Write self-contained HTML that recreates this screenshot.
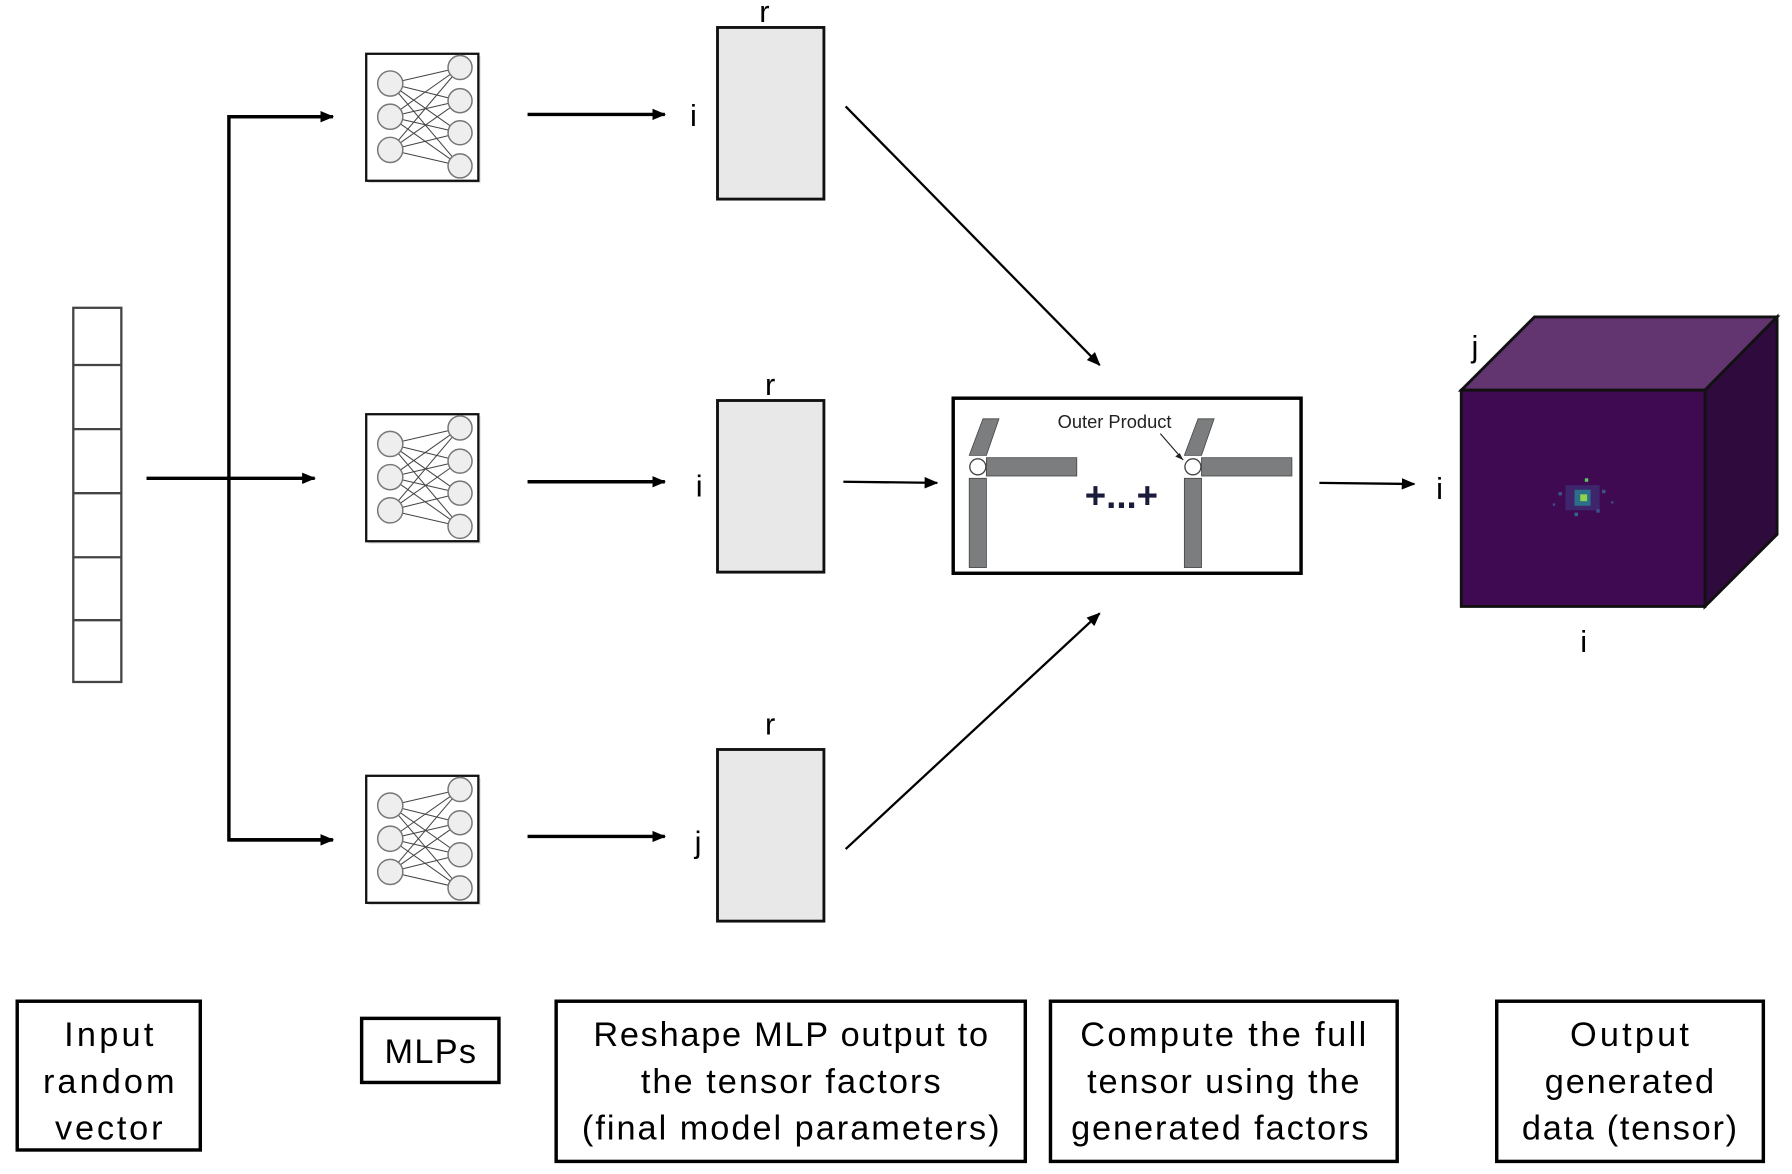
<!DOCTYPE html>
<html><head><meta charset="utf-8"><style>html,body{margin:0;padding:0;background:#fff}svg{display:block}</style></head>
<body>
<svg width="1792" height="1174" viewBox="0 0 1566 1026" xmlns="http://www.w3.org/2000/svg" font-family="Liberation Sans, sans-serif">
<defs>
<marker id="ah" markerWidth="12" markerHeight="10" refX="11" refY="5" orient="auto" markerUnits="userSpaceOnUse"><path d="M0,0 L12,5 L0,10 z" fill="#000"/></marker>
<g id="mlp">
<rect x="2" y="2" width="98" height="111" fill="#bbb" opacity="0.5"/>
<rect x="0" y="0" width="98" height="111" fill="#fff" stroke="#111" stroke-width="2"/>
<g stroke="#444" stroke-width="0.9">
<line x1="21" y1="26" x2="82" y2="12"/><line x1="21" y1="26" x2="82" y2="41"/><line x1="21" y1="26" x2="82" y2="69"/><line x1="21" y1="26" x2="82" y2="98"/>
<line x1="21" y1="55" x2="82" y2="12"/><line x1="21" y1="55" x2="82" y2="41"/><line x1="21" y1="55" x2="82" y2="69"/><line x1="21" y1="55" x2="82" y2="98"/>
<line x1="21" y1="84" x2="82" y2="12"/><line x1="21" y1="84" x2="82" y2="41"/><line x1="21" y1="84" x2="82" y2="69"/><line x1="21" y1="84" x2="82" y2="98"/>
</g>
<g fill="#eee" stroke="#777" stroke-width="1.3">
<circle cx="21" cy="26" r="11"/><circle cx="21" cy="55" r="11"/><circle cx="21" cy="84" r="11"/>
<circle cx="82" cy="12" r="10.5"/><circle cx="82" cy="41" r="10.5"/><circle cx="82" cy="69" r="10.5"/><circle cx="82" cy="98" r="10.5"/>
</g>
</g>
<g id="op">
<polygon points="847,398 859,366 873,366 862,398" fill="#7b7d7f" stroke="#444" stroke-width="0.7"/>
<rect x="862" y="400" width="79" height="16" fill="#7b7d7f" stroke="#444" stroke-width="0.7"/>
<rect x="847" y="418" width="15" height="78" fill="#7b7d7f" stroke="#444" stroke-width="0.7"/>
<circle cx="854.5" cy="408" r="7" fill="#fff" stroke="#444" stroke-width="1.2"/>
</g>
</defs>

<rect x="64" y="269" width="42" height="327" fill="#fff" stroke="#444" stroke-width="2"/>
<g stroke="#444" stroke-width="2"><line x1="64" y1="319" x2="106" y2="319"/><line x1="64" y1="375" x2="106" y2="375"/><line x1="64" y1="431" x2="106" y2="431"/><line x1="64" y1="487" x2="106" y2="487"/><line x1="64" y1="542" x2="106" y2="542"/></g>

<g stroke="#000" stroke-width="3" fill="none">
<line x1="128" y1="418" x2="275" y2="418" marker-end="url(#ah)"/>
<polyline points="290,102 200,102 200,734 290,734"/>
</g>
<g stroke="#000" stroke-width="3"><line x1="200" y1="102" x2="291" y2="102" marker-end="url(#ah)"/><line x1="200" y1="734" x2="291" y2="734" marker-end="url(#ah)"/></g>

<use href="#mlp" x="320" y="47"/>
<use href="#mlp" x="320" y="362"/>
<use href="#mlp" x="320" y="678"/>

<g stroke="#000" stroke-width="3">
<line x1="461" y1="100" x2="581" y2="100" marker-end="url(#ah)"/>
<line x1="461" y1="421" x2="581" y2="421" marker-end="url(#ah)"/>
<line x1="461" y1="731" x2="581" y2="731" marker-end="url(#ah)"/>
</g>

<g fill="#e8e8e8" stroke="#111" stroke-width="2.5">
<rect x="627" y="24" width="93" height="150"/>
<rect x="627" y="350" width="93" height="150"/>
<rect x="627" y="655" width="93" height="150"/>
</g>
<g font-size="27" fill="#000" text-anchor="middle">
<text x="668" y="19">r</text><text x="673" y="345">r</text><text x="673" y="642">r</text>
<text x="606" y="110">i</text><text x="611" y="434">i</text><text x="610" y="745">j</text>
<text x="1258" y="436">i</text><text x="1289" y="312">j</text><text x="1384" y="570">i</text>
</g>

<g stroke="#000" stroke-width="2">
<line x1="739" y1="93" x2="961" y2="319" marker-end="url(#ah)"/>
<line x1="739" y1="742" x2="961" y2="536" marker-end="url(#ah)"/>
<line x1="737" y1="421" x2="819" y2="422" marker-end="url(#ah)"/>
<line x1="1153" y1="422" x2="1236" y2="423" marker-end="url(#ah)"/>
</g>

<rect x="833" y="348" width="304" height="153" fill="#fff" stroke="#000" stroke-width="3"/>
<use href="#op"/>
<use href="#op" x="188"/>
<text x="974" y="374" font-size="16" fill="#222" text-anchor="middle">Outer Product</text>
<line x1="1014" y1="379" x2="1034" y2="402" stroke="#222" stroke-width="1"/>
<path d="M1034,402 L1027,399 L1031,396 z" fill="#222"/>
<text x="980" y="444" font-size="32" font-weight="bold" fill="#1a1a3a" text-anchor="middle">+...+</text>

<polygon points="1277,341 1341,277 1553,277 1490,341" fill="#623470" stroke="#111" stroke-width="2.5"/>
<polygon points="1490,341 1553,277 1553,467 1490,530" fill="#2e0a3d" stroke="#111" stroke-width="2.5"/>
<rect x="1277" y="341" width="213" height="189" fill="#3f0a52" stroke="#111" stroke-width="2.5"/>
<g>
<rect x="1368" y="424" width="30" height="22" fill="#3d3f86" opacity="0.5"/>
<rect x="1376" y="428" width="14" height="14" fill="#2b6f8a"/>
<rect x="1381" y="432" width="6" height="6" fill="#8fd44a"/>
<rect x="1385" y="418" width="3" height="3" fill="#5ec962"/>
<rect x="1362" y="430" width="3" height="3" fill="#3b528b"/>
<rect x="1395" y="445" width="3" height="3" fill="#3b528b"/>
<rect x="1376" y="448" width="3" height="3" fill="#31688e"/>
<rect x="1400" y="428" width="3" height="3" fill="#3b528b"/>
<rect x="1408" y="438" width="2" height="2" fill="#3b528b"/>
<rect x="1357" y="440" width="2" height="2" fill="#3b528b"/>
</g>

<g fill="#fff" stroke="#000" stroke-width="3">
<rect x="15" y="875" width="160" height="130"/>
<rect x="316" y="890" width="120" height="56"/>
<rect x="486" y="875" width="410" height="140"/>
<rect x="918" y="875" width="303" height="140"/>
<rect x="1308" y="875" width="233" height="140"/>
</g>
<g font-size="30" fill="#000" text-anchor="middle" font-family="Liberation Sans, sans-serif">
<text x="95" y="914" textLength="78">Input</text><text x="95" y="955" textLength="115">random</text><text x="95" y="996" textLength="94">vector</text>
<text x="376" y="929" textLength="80">MLPs</text>
<text x="691" y="914" textLength="345">Reshape MLP output to</text><text x="691" y="955" textLength="262">the tensor factors</text><text x="691" y="996" textLength="365">(final model parameters)</text>
<text x="1069" y="914" textLength="250">Compute the full</text><text x="1069" y="955" textLength="238">tensor using the</text><text x="1066" y="996" textLength="260">generated factors</text>
<text x="1424" y="914" textLength="104">Output</text><text x="1424" y="955" textLength="148">generated</text><text x="1424" y="996" textLength="188">data (tensor)</text>
</g>
</svg>
</body></html>
